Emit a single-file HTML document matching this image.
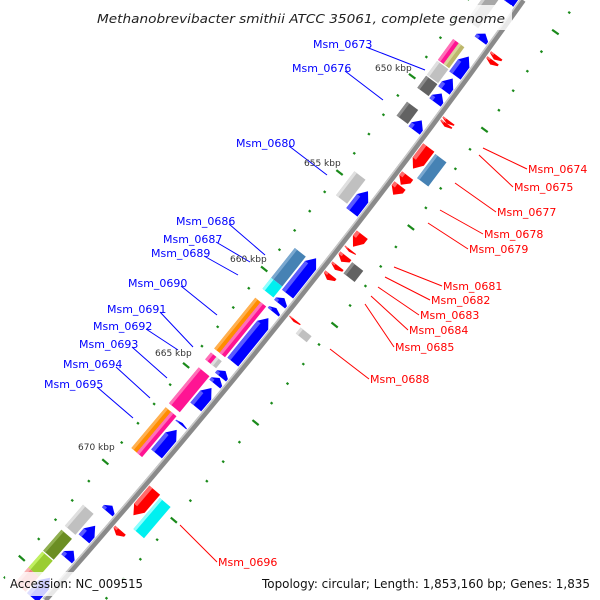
<!DOCTYPE html>
<html><head><meta charset="utf-8"><style>
html,body{margin:0;padding:0;background:#fff;width:600px;height:600px;overflow:hidden}
svg{display:block;overflow:hidden}
text{font-family:"DejaVu Sans","Liberation Sans",sans-serif}
</style></head><body>
<svg id="map" width="600" height="600" viewBox="0 0 600 600" xmlns="http://www.w3.org/2000/svg">
<g id="ticks"></g>
<path d="M523,0 Q310,300 45,600" fill="none" stroke="#8a8a8a" stroke-width="6"/>
<path d="M521,-1 Q308,299 43,599" fill="none" stroke="#c8c8c8" stroke-width="1.5"/>
<g id="genes"></g>
<g id="labels"></g>
<g font-size="9" fill="#333">
<text x="375" y="71">650 kbp</text>
<text x="304" y="166">655 kbp</text>
<text x="230" y="262">660 kbp</text>
<text x="155" y="356">665 kbp</text>
<text x="78" y="450">670 kbp</text>
</g>
<rect x="88" y="5" width="424" height="25" fill="#fff" opacity="0.8"/>
<text x="97" y="23" font-size="12.5" font-style="italic" fill="#222" textLength="408" lengthAdjust="spacingAndGlyphs">Methanobrevibacter smithii ATCC 35061, complete genome</text>
<rect x="5" y="572" width="170" height="24" fill="#fff" opacity="0.8"/>
<text x="10" y="588" font-size="12" fill="#111" textLength="133" lengthAdjust="spacingAndGlyphs">Accession: NC_009515</text>
<rect x="256" y="572" width="340" height="24" fill="#fff" opacity="0.8"/>
<text x="262" y="588" font-size="12" fill="#111" textLength="328" lengthAdjust="spacingAndGlyphs">Topology: circular; Length: 1,853,160 bp; Genes: 1,835</text>
</svg>
<script>
var geneStart = [-10,40,63,85,100,127,198,265,305,315,325,378,385,395,430,437,513,533,558,585,
  -20,59,59,81,96,122,192,269,299,319,319,374,374,389,429,429,527,552,574,590,
  49,54,114,117,141,169,179,228,243,249,259,268,313,483,523,
  142,250,315,485];
var geneEnd = [9,47,82,97,109,137,219,301,311,319,369,384,391,414,432,461,519,546,566,605,
  40,80,80,95,108,136,216,299,310,370,370,381,381,425,470,470,548,573,590,605,
  53,58,117,120,162,178,188,240,245,255,263,273,315,508,528,
  166,261,321,516];
var geneTrack = ["f","f","f","f","f","f","f","f","f","f","f","f","f","f","f","f","f","f","f","f",
  "o","oo","oi","o","o","o","o","o","o","oo","oi","oo","oi","o","oo","oi","o","o","o","o",
  "r","r","r","r","r","r","r","r","r","r","r","r","r","r","r",
  "rr","rr","rr","rr"];
var geneColor = ["blue","blue","blue","blue","blue","blue","blue","blue","blue","blue","blue","blue","blue","blue","blue","blue","blue","blue","blue","blue",
  "gray","pink","khaki","lgray","dgray","dgray","lgray","steel","cyan","orange","pink","pink","lgray","pink","orange","pink","lgray","olive","lime","salmon",
  "red","red","red","red","red","red","red","red","red","red","red","red","red","red","red",
  "steel","dgray","lgray","cyan"];
var labelNames = ["Msm_0673","Msm_0676","Msm_0680","Msm_0686","Msm_0687","Msm_0689","Msm_0690","Msm_0691","Msm_0692","Msm_0693","Msm_0694","Msm_0695",
  "Msm_0674","Msm_0675","Msm_0677","Msm_0678","Msm_0679","Msm_0681","Msm_0682","Msm_0683","Msm_0684","Msm_0685","Msm_0688","Msm_0696"];
var labelX = [313,292,236,176,163,151,128,107,93,79,63,44, 528,514,497,484,469,443,431,420,409,395,370,218];
var labelY = [44,68,143,221,239,253,283,309,326,344,364,384, 169,187,212,234,249,286,300,315,330,347,379,562];
var labelTargetX = [425,383,327,265,250,238,217,193,178,167,150,133, 483,479,455,440,428,394,385,378,371,365,330,180];
var labelTargetY = [70,100,175,255,262,275,315,347,350,378,398,418, 148,155,183,210,223,267,277,287,296,304,349,525];

var P0=[523,0],P1=[310,300],P2=[45,600];
function pt(yb,d){
  var t=yb/600,u=1-t;
  var x=u*u*P0[0]+2*u*t*P1[0]+t*t*P2[0];
  var y=u*u*P0[1]+2*u*t*P1[1]+t*t*P2[1];
  var tx=2*u*(P1[0]-P0[0])+2*t*(P2[0]-P1[0]);
  var ty=2*u*(P1[1]-P0[1])+2*t*(P2[1]-P1[1]);
  var L=Math.sqrt(tx*tx+ty*ty);tx/=L;ty/=L;
  return [x-ty*d, y+tx*d];
}
var colors={blue:["#0000ff","#5a5aff"],red:["#ff0000","#ff6a6a"],gray:["#a8a8a8","#d0d0d0"],lgray:["#c0c0c0","#e0e0e0"],
  dgray:["#626262","#8c8c8c"],steel:["#4682b4","#7aa8d0"],cyan:["#00f0f0","#90ffff"],orange:["#ff8c00","#ffb050"],
  pink:["#ff1493","#ff70b8"],khaki:["#bdb76b","#d8d49a"],olive:["#6b8e23","#90b050"],lime:["#9acd32","#c0f060"],salmon:["#f08080","#f8b0b0"]};
var trackD={f:[4,18],o:[20,34],oo:[27,34],oi:[20,27],r:[-18,-4],rr:[-34,-20]};
var NS="http://www.w3.org/2000/svg";
function poly(pts,fill,parent,name){
  var p=document.createElementNS(NS,"polygon");
  p.setAttribute("points",pts.map(function(q){return q[0].toFixed(1)+","+q[1].toFixed(1)}).join(" "));
  p.setAttribute("fill",fill);
  
  
  parent.appendChild(p);return p;
}
var gG=document.getElementById("genes");
for(var i=0;i<geneStart.length;i++){
  var s=geneStart[i],e=geneEnd[i],tr=geneTrack[i],c=colors[geneColor[i]];
  var d1=trackD[tr][0],d2=trackD[tr][1],dm=(d1+d2)/2,len=e-s,pts,hl;
  var head=Math.min(7,len*0.6);
  if(tr==="f"){
    pts=[pt(s,dm),pt(s+head,d2),pt(e,d2),pt(e,d1),pt(s+head,d1)];
    hl=[pt(s+head,d2),pt(e,d2),pt(e,d2-4),pt(s+head,d2-4)];
  }else if(tr==="r"){
    pts=[pt(e,dm),pt(e-head,d1),pt(s,d1),pt(s,d2),pt(e-head,d2)];
    hl=[pt(s,d2),pt(e-head,d2),pt(e-head,d2-4),pt(s,d2-4)];
  }else{
    pts=[pt(s,d1),pt(e,d1),pt(e,d2),pt(s,d2)];
    hl=[pt(s,d2),pt(e,d2),pt(e,d2-3),pt(s,d2-3)];
  }
  var g=document.createElementNS(NS,"g");
  
  
  gG.appendChild(g);
  poly(pts,c[0],g,'gene-body');
  poly(hl,c[1],g,'gene-highlight');
}
var tG=document.getElementById("ticks");
for(var k=-1;k<=31;k++){
  var yb=6+19.4*k;
  [45,-45].forEach(function(off){
    var major=(k%5===0);
    var h=major?4:1.2;
    var a=pt(yb,off-h),b=pt(yb,off+h);
    var l=document.createElementNS(NS,"line");
    l.setAttribute("x1",a[0]);l.setAttribute("y1",a[1]);l.setAttribute("x2",b[0]);l.setAttribute("y2",b[1]);
    l.setAttribute("stroke","#1a8a1a");l.setAttribute("stroke-width","2.2");
    
    
    tG.appendChild(l);
  });
}
var lG=document.getElementById("labels");
for(var j=0;j<labelNames.length;j++){
  var red=j>=12,col=red?"#ff0000":"#0000ff";
  var tx=document.createElementNS(NS,"text");
  tx.setAttribute("x",labelX[j]);tx.setAttribute("y",labelY[j]+4);
  tx.setAttribute("font-size","11");tx.setAttribute("fill",col);
  tx.textContent=labelNames[j];
  
  
  var ln=document.createElementNS(NS,"line");
  var sx=red?labelX[j]-1:labelX[j]+53,sy=labelY[j]+(red?0:3);
  ln.setAttribute("x1",sx);ln.setAttribute("y1",sy);ln.setAttribute("x2",labelTargetX[j]);ln.setAttribute("y2",labelTargetY[j]);
  ln.setAttribute("stroke",col);ln.setAttribute("stroke-width","1");
  
  
  lG.appendChild(ln);lG.appendChild(tx);
}
</script>
</body></html>
